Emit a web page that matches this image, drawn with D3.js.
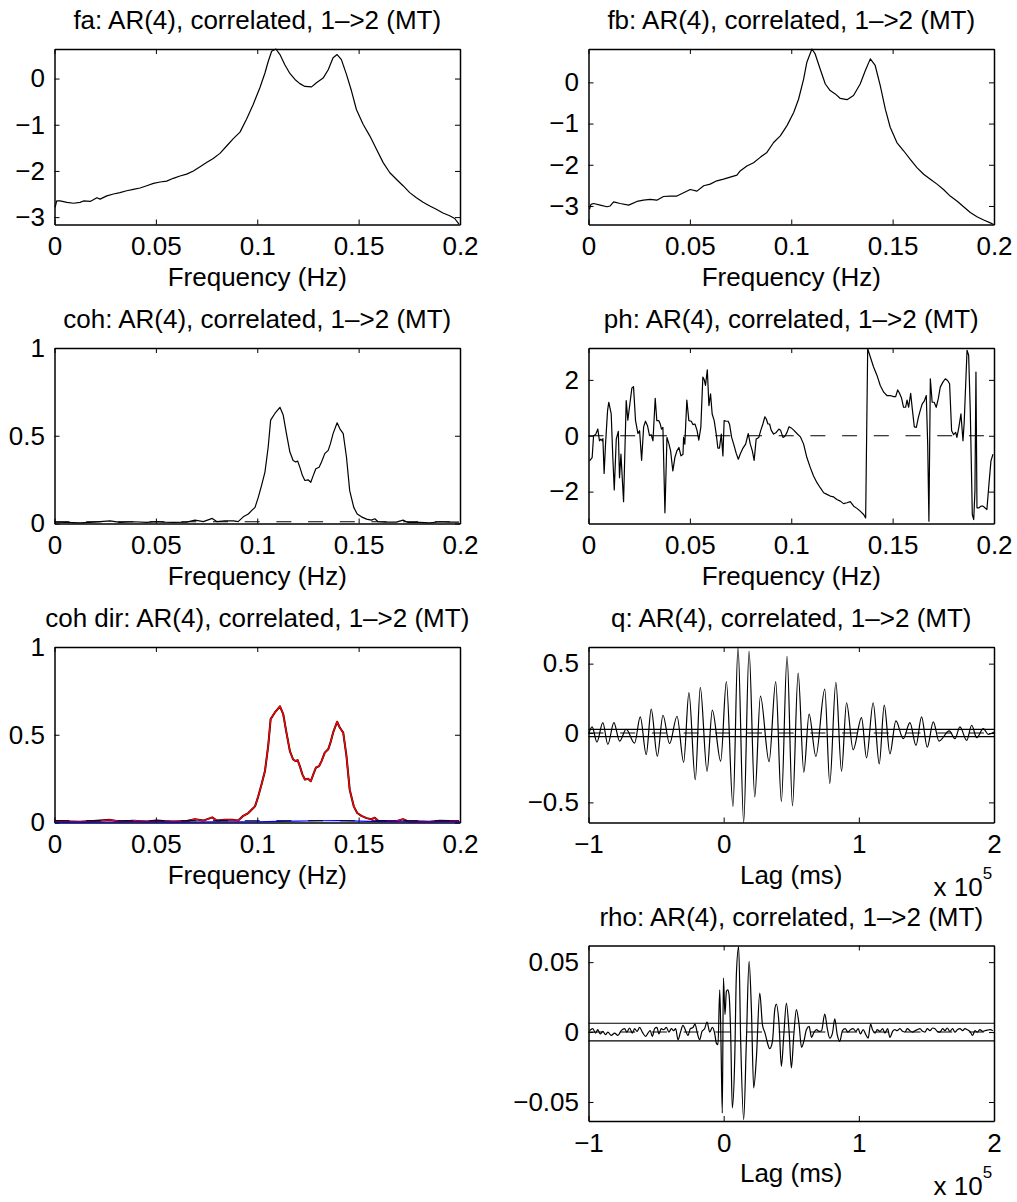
<!DOCTYPE html>
<html>
<head>
<meta charset="utf-8">
<script src="https://cdn.jsdelivr.net/npm/d3@7"></script>
<style>
body { margin: 0; background: #fff; }
</style>
</head>
<body>
<div id="fig"></div>
<script>
// spectra: [frequency (Hz), value]
const faSpec = [[0.0003,-2.79],[0.0011,-2.65],[0.0028,-2.65],[0.0061,-2.68],[0.0094,-2.70],[0.0126,-2.68],[0.0143,-2.65],[0.0176,-2.66],[0.0209,-2.58],[0.0225,-2.61],[0.0258,-2.54],[0.0291,-2.50],[0.0323,-2.47],[0.0356,-2.43],[0.0389,-2.40],[0.0422,-2.37],[0.0455,-2.32],[0.0488,-2.27],[0.0521,-2.24],[0.0553,-2.22],[0.0586,-2.16],[0.0619,-2.11],[0.0652,-2.07],[0.0685,-2.00],[0.0718,-1.91],[0.0750,-1.82],[0.0783,-1.73],[0.0816,-1.62],[0.0849,-1.46],[0.0882,-1.30],[0.0915,-1.16],[0.0947,-0.88],[0.0980,-0.56],[0.1013,-0.20],[0.1038,0.12],[0.1054,0.37],[0.1071,0.59],[0.1092,0.64],[0.1112,0.52],[0.1136,0.30],[0.1161,0.11],[0.1186,-0.02],[0.1210,-0.11],[0.1235,-0.17],[0.1268,-0.18],[0.1292,-0.09],[0.1325,0.01],[0.1350,0.19],[0.1374,0.45],[0.1394,0.52],[0.1415,0.41],[0.1440,0.09],[0.1465,-0.27],[0.1489,-0.67],[0.1522,-0.99],[0.1555,-1.24],[0.1588,-1.53],[0.1621,-1.82],[0.1654,-2.04],[0.1686,-2.18],[0.1719,-2.32],[0.1752,-2.47],[0.1785,-2.58],[0.1818,-2.68],[0.1851,-2.76],[0.1883,-2.83],[0.1916,-2.91],[0.1949,-2.97],[0.1974,-3.03],[0.1995,-3.15]]

const fbSpec = [[0.0005,-3.08],[0.0012,-2.96],[0.0025,-2.94],[0.0058,-2.98],[0.0091,-3.02],[0.0107,-3.00],[0.0124,-2.90],[0.0156,-2.94],[0.0198,-2.98],[0.0239,-2.89],[0.0271,-2.86],[0.0304,-2.84],[0.0337,-2.86],[0.0370,-2.77],[0.0403,-2.76],[0.0436,-2.76],[0.0469,-2.68],[0.0502,-2.60],[0.0535,-2.64],[0.0568,-2.51],[0.0600,-2.47],[0.0633,-2.39],[0.0666,-2.35],[0.0699,-2.30],[0.0732,-2.25],[0.0748,-2.15],[0.0781,-2.03],[0.0814,-1.95],[0.0847,-1.82],[0.0880,-1.70],[0.0913,-1.46],[0.0946,-1.30],[0.0979,-1.05],[0.1012,-0.73],[0.1036,-0.41],[0.1061,0.08],[0.1077,0.49],[0.1102,0.81],[0.1118,0.69],[0.1143,0.32],[0.1168,-0.04],[0.1192,-0.20],[0.1217,-0.28],[0.1242,-0.39],[0.1275,-0.42],[0.1307,-0.32],[0.1340,-0.04],[0.1365,0.28],[0.1390,0.57],[0.1414,0.41],[0.1439,-0.08],[0.1464,-0.65],[0.1488,-1.09],[0.1521,-1.46],[0.1554,-1.66],[0.1587,-1.87],[0.1620,-2.07],[0.1653,-2.23],[0.1686,-2.35],[0.1719,-2.47],[0.1751,-2.60],[0.1784,-2.76],[0.1817,-2.88],[0.1850,-3.02],[0.1883,-3.16],[0.1916,-3.26],[0.1949,-3.34],[0.1982,-3.41],[0.1998,-3.45]]

const cohSpec = [[0.0003,0.008],[0.0061,0.006],[0.0126,0.004],[0.0192,0.008],[0.0274,0.015],[0.0323,0.006],[0.0389,0.010],[0.0455,0.006],[0.0504,0.011],[0.0537,0.008],[0.0586,0.006],[0.0652,0.008],[0.0693,0.019],[0.0734,0.011],[0.0778,0.029],[0.0800,0.011],[0.0841,0.015],[0.0882,0.015],[0.0906,0.011],[0.0931,0.038],[0.0956,0.054],[0.0972,0.073],[0.0989,0.092],[0.1005,0.149],[0.1021,0.216],[0.1038,0.293],[0.1054,0.436],[0.1066,0.589],[0.1087,0.627],[0.1112,0.662],[0.1128,0.618],[0.1144,0.512],[0.1161,0.407],[0.1177,0.359],[0.1190,0.350],[0.1199,0.356],[0.1210,0.321],[0.1223,0.273],[0.1235,0.245],[0.1251,0.249],[0.1264,0.235],[0.1276,0.273],[0.1289,0.312],[0.1305,0.321],[0.1317,0.350],[0.1333,0.398],[0.1350,0.417],[0.1361,0.455],[0.1374,0.512],[0.1394,0.574],[0.1407,0.541],[0.1424,0.512],[0.1440,0.379],[0.1456,0.187],[0.1476,0.092],[0.1493,0.054],[0.1514,0.038],[0.1539,0.025],[0.1563,0.019],[0.1580,0.027],[0.1596,0.010],[0.1637,0.008],[0.1686,0.008],[0.1719,0.019],[0.1744,0.006],[0.1801,0.006],[0.1851,0.004],[0.1900,0.010],[0.1949,0.008],[0.1995,0.008]]

// directed coherence 1->2 (red) sits right on top of the coherence curve
const cohDir12 = cohSpec
// directed coherence 2->1 (blue), near zero
const cohDir21 = [[0,0.002],[0.02,0.002],[0.04,0.003],[0.06,0.002],[0.08,0.003],[0.10,0.004],[0.11,0.006],[0.12,0.008],[0.13,0.010],[0.14,0.011],[0.15,0.008],[0.16,0.005],[0.18,0.003],[0.20,0.004]]
const cohThresh = 0.01

const phSpec = [[0.0005,-0.90],[0.0018,-0.78],[0.0025,0.00],[0.0035,0.04],[0.0046,0.24],[0.0054,-0.18],[0.0061,-0.12],[0.0068,-0.18],[0.0071,-0.10],[0.0077,-1.35],[0.0084,-0.30],[0.0094,0.90],[0.0100,1.20],[0.0112,0.78],[0.0120,-0.78],[0.0127,-1.94],[0.0137,-0.12],[0.0147,0.16],[0.0153,-1.50],[0.0160,-0.66],[0.0173,-2.36],[0.0186,1.26],[0.0194,0.56],[0.0202,1.02],[0.0214,1.71],[0.0222,1.76],[0.0232,0.54],[0.0244,0.08],[0.0252,0.18],[0.0262,-0.88],[0.0272,0.32],[0.0281,0.52],[0.0291,0.36],[0.0301,0.00],[0.0309,0.04],[0.0318,-0.18],[0.0329,1.34],[0.0337,0.54],[0.0347,0.54],[0.0354,0.42],[0.0360,0.24],[0.0367,0.30],[0.0377,-2.76],[0.0387,-0.06],[0.0397,-0.30],[0.0405,-0.54],[0.0416,-1.26],[0.0426,-0.78],[0.0436,-0.54],[0.0446,-0.42],[0.0456,-0.72],[0.0466,-0.66],[0.0469,-0.06],[0.0475,-0.30],[0.0485,1.28],[0.0495,0.54],[0.0507,0.52],[0.0515,0.40],[0.0525,0.42],[0.0535,0.20],[0.0544,-0.16],[0.0554,0.30],[0.0564,2.10],[0.0571,2.00],[0.0577,1.80],[0.0586,2.36],[0.0594,1.08],[0.0602,1.50],[0.0610,0.78],[0.0620,0.54],[0.0630,0.06],[0.0638,-0.44],[0.0646,-0.44],[0.0655,0.06],[0.0663,-0.72],[0.0669,0.54],[0.0679,0.52],[0.0689,0.52],[0.0696,0.40],[0.0706,-0.06],[0.0716,-0.30],[0.0729,-0.64],[0.0739,-0.84],[0.0748,-0.66],[0.0762,-0.44],[0.0775,-0.30],[0.0788,0.08],[0.0798,-0.30],[0.0808,-0.54],[0.0817,-0.88],[0.0827,-0.12],[0.0840,-0.06],[0.0850,0.20],[0.0860,0.42],[0.0870,0.68],[0.0877,0.60],[0.0885,0.42],[0.0893,0.42],[0.0901,0.20],[0.0913,0.06],[0.0926,0.12],[0.0939,0.24],[0.0947,0.20],[0.0959,-0.06],[0.0969,-0.02],[0.0979,0.12],[0.0989,0.32],[0.1000,0.28],
  [0.1012,0.20],[0.1028,0.08],[0.1045,-0.04],[0.1061,-0.30],[0.1077,-0.78],[0.1094,-1.14],[0.1110,-1.44],[0.1127,-1.68],[0.1143,-1.86],[0.1160,-2.04],[0.1176,-2.10],[0.1192,-2.16],[0.1209,-2.19],[0.1225,-2.28],[0.1242,-2.34],[0.1258,-2.43],[0.1275,-2.40],[0.1291,-2.36],[0.1308,-2.52],[0.1324,-2.60],[0.1340,-2.70],[0.1357,-2.82],[0.1367,-2.94],[0.1377,3.12],[0.1390,2.82],[0.1406,2.46],[0.1423,2.16],[0.1439,1.80],[0.1456,1.56],[0.1472,1.44],[0.1488,1.44],[0.1505,1.40],[0.1515,1.40],[0.1525,1.64],[0.1534,1.52],[0.1544,1.35],[0.1554,1.02],[0.1564,1.02],[0.1571,1.28],[0.1579,1.02],[0.1589,1.52],[0.1597,0.96],[0.1607,0.32],[0.1617,0.30],[0.1627,0.66],[0.1636,0.90],[0.1646,1.14],[0.1656,1.24],[0.1666,1.44],[0.1673,-0.30],[0.1679,-3.06],[0.1686,2.04],[0.1695,1.20],[0.1705,1.20],[0.1715,1.02],[0.1725,1.32],[0.1735,1.74],[0.1748,1.92],[0.1760,2.04],[0.1771,1.98],[0.1781,1.86],[0.1791,0.18],[0.1801,0.04],[0.1811,0.12],[0.1817,-0.06],[0.1827,0.32],[0.1837,0.78],[0.1847,-0.18],[0.1853,0.48],[0.1867,3.06],[0.1875,2.88],[0.1883,0.90],[0.1893,-2.82],[0.1900,-3.00],[0.1906,-1.98],[0.1911,2.28],[0.1916,-2.58],[0.1926,-2.58],[0.1936,-2.52],[0.1946,-2.52],[0.1955,-2.58],[0.1965,-2.64],[0.1975,-1.74],[0.1985,-0.90],[0.1995,-0.66]]

// lag in units of 1e5 ms: [lag, value]
const qLagged = [[-0.997,0.000],[-0.973,0.044],[-0.938,-0.065],[-0.894,0.075],[-0.857,-0.082],[-0.812,0.075],[-0.770,-0.058],[-0.721,0.027],[-0.659,-0.073],[-0.617,0.116],[-0.573,-0.155],[-0.536,0.172],[-0.491,-0.167],[-0.449,0.128],[-0.400,-0.077],[-0.345,0.121],[-0.296,-0.211],[-0.257,0.291],[-0.210,-0.337],[-0.173,0.329],[-0.123,-0.276],[-0.084,0.165],[-0.022,-0.203],[0.020,0.370],[0.069,-0.530],[0.106,0.620],[0.148,-0.646],[0.188,0.588],[0.230,-0.460],[0.272,0.266],[0.336,-0.206],[0.385,0.370],[0.427,-0.494],[0.469,0.552],[0.509,-0.525],[0.551,0.431],[0.593,-0.283],[0.632,0.136],[0.682,-0.169],[0.748,0.317],[0.785,-0.363],[0.830,0.366],[0.872,-0.276],[0.909,0.218],[0.958,-0.121],[1.020,0.111],[1.057,-0.179],[1.106,0.218],[1.151,-0.223],[1.188,0.201],[1.230,-0.150],[1.274,0.087],[1.329,-0.041],[1.378,0.075],[1.423,-0.090],[1.464,0.116],[1.506,-0.102],[1.551,0.080],[1.593,-0.058],[1.669,0.015],[1.711,-0.041],[1.748,0.044],[1.798,-0.053],[1.835,0.056],[1.872,-0.034],[1.921,0.031],[1.958,-0.010],[2.000,0.007]]
const qConf = [0.026, -0.026]

const rhoLagged = [[-0.992,0.0010],[-0.968,0.0024],[-0.948,-0.0007],[-0.931,0.0017],[-0.913,-0.0014],[-0.894,0.0005],[-0.874,-0.0019],[-0.857,0.0000],[-0.832,-0.0024],[-0.807,-0.0007],[-0.783,-0.0024],[-0.758,0.0010],[-0.733,0.0024],[-0.716,0.0000],[-0.696,0.0029],[-0.676,-0.0007],[-0.659,0.0024],[-0.641,0.0005],[-0.622,0.0033],[-0.602,0.0000],[-0.577,-0.0031],[-0.560,-0.0007],[-0.543,0.0010],[-0.528,-0.0031],[-0.511,0.0024],[-0.494,0.0033],[-0.479,-0.0014],[-0.462,0.0024],[-0.444,0.0017],[-0.424,0.0033],[-0.405,0.0000],[-0.387,0.0024],[-0.370,0.0010],[-0.355,0.0024],[-0.338,-0.0055],[-0.321,-0.0007],[-0.301,0.0048],[-0.284,0.0017],[-0.264,-0.0024],[-0.247,0.0024],[-0.227,0.0033],[-0.212,0.0057],[-0.195,-0.0007],[-0.178,-0.0055],[-0.160,0.0005],[-0.141,0.0024],[-0.123,0.0071],[-0.103,0.0000],[-0.084,0.0033],[-0.067,-0.0007],[-0.054,-0.0079],[-0.042,-0.0090],[-0.029,0.0302],[-0.020,-0.0067],[-0.010,-0.0579],[-0.002,0.0386],[0.010,0.0124],[0.020,0.0290],[0.030,0.0302],[0.040,0.0267],[0.052,-0.0019],[0.064,-0.0543],[0.082,-0.0186],[0.094,0.0410],[0.111,0.0612],[0.126,-0.0067],[0.148,-0.0626],[0.168,-0.0067],[0.188,0.0505],[0.205,0.0171],[0.222,-0.0400],[0.242,-0.0186],[0.267,0.0279],[0.287,0.0052],[0.306,-0.0007],[0.321,-0.0067],[0.341,-0.0119],[0.361,-0.0067],[0.378,0.0160],[0.390,0.0200],[0.410,0.0052],[0.427,-0.0245],[0.445,-0.0019],[0.464,0.0207],[0.484,0.0005],[0.501,-0.0257],[0.519,-0.0019],[0.538,0.0160],[0.558,0.0052],[0.576,-0.0110],[0.593,-0.0067],[0.612,0.0017],[0.632,0.0040],[0.650,-0.0038],[0.669,0.0000],[0.687,0.0017],[0.706,0.0005],[0.724,0.0010],[0.748,0.0129],[0.766,0.0029],[0.785,-0.0043],[0.805,-0.0007],[0.822,0.0095],[0.840,-0.0019],[0.859,-0.0067],[0.879,0.0010],[0.899,0.0024],[0.919,0.0000],[0.938,0.0017],[0.958,0.0024],[0.978,0.0005],[0.995,0.0024],[1.012,-0.0014],[1.032,0.0017],[1.052,-0.0019],[1.069,-0.0043],[1.087,0.0057],[1.101,0.0017],[1.121,-0.0007],[1.136,0.0017],[1.156,0.0005],[1.176,0.0024],[1.193,-0.0007],[1.213,0.0024],[1.230,-0.0038],[1.250,0.0005],[1.267,0.0017],[1.284,0.0010],[1.304,0.0024],[1.324,0.0005],[1.341,0.0000],[1.358,0.0024],[1.378,0.0010],[1.398,0.0000],[1.415,0.0010],[1.432,0.0017],[1.452,0.0024],[1.472,0.0005],[1.489,0.0000],[1.506,0.0024],[1.526,0.0010],[1.546,0.0029],[1.563,0.0024],[1.580,0.0005],[1.600,0.0000],[1.620,0.0024],[1.637,0.0010],[1.654,0.0029],[1.674,0.0005],[1.694,0.0024],[1.711,0.0000],[1.729,0.0017],[1.748,0.0024],[1.768,0.0010],[1.785,0.0024],[1.803,0.0017],[1.822,0.0005],[1.842,-0.0024],[1.859,0.0010],[1.877,0.0000],[1.896,0.0017],[1.916,0.0005],[1.934,0.0010],[1.951,0.0014],[1.971,0.0017],[1.991,0.0010]]
const rhoConf = [0.0063, -0.0063]

// axis limits and ticks
const freqLim = [0, 0.2]
const freqTicks = [0, 0.05, 0.1, 0.15, 0.2]
const lagLim = [-1, 2]
const lagTicks = [-1, 0, 1, 2]
const faLim = [-3.16, 0.64], faTicks = [-3, -2, -1, 0]
const fbLim = [-3.45, 0.81], fbTicks = [-3, -2, -1, 0]
const cohLim = [0, 1], cohTicks = [0, 0.5, 1]
const phLim = [-Math.PI, Math.PI], phTicks = [-2, 0, 2]
const qLim = [-0.645, 0.62], qTicks = [-0.5, 0, 0.5]
const rhoLim = [-0.0636, 0.0619], rhoTicks = [-0.05, 0, 0.05]

const W = 1017, H = 1202
const font = '"Liberation Sans", Arial, Helvetica, sans-serif'
const fontSize = 26
const colX = [54.5, 588.5], axW = 405.5
const rowY = [49, 348, 647, 945.5], axH = 175.5
const dash = "15,16.7"

const svg = d3.select("#fig").append("svg")
  .attr("width", W).attr("height", H)
  .style("background", "#fff")

// MATLAB style: minus sign, no trailing zeros
function fmt(d) {
  if (d === 0) return "0"
  return (d < 0 ? "\u2212" : "") + String(Math.abs(d))
}

function makeAxes(col, row, xLim, yLim, xTicks, yTicks, title, xLabel) {
  const g = svg.append("g").attr("transform", "translate(" + colX[col] + "," + rowY[row] + ")")
  const x = d3.scaleLinear().domain(xLim).range([0, axW])
  const y = d3.scaleLinear().domain(yLim).range([axH, 0])

  // ticks pointing inward on all four sides
  const axes = [
    g.append("g").attr("transform", "translate(0," + axH + ")")
      .call(d3.axisBottom(x).tickValues(xTicks).tickFormat(fmt).tickSizeInner(-5).tickSizeOuter(0).tickPadding(12.5)),
    g.append("g")
      .call(d3.axisTop(x).tickValues(xTicks).tickFormat("").tickSizeInner(-5).tickSizeOuter(0)),
    g.append("g")
      .call(d3.axisLeft(y).tickValues(yTicks).tickFormat(fmt).tickSizeInner(-5).tickSizeOuter(0).tickPadding(9.5)),
    g.append("g").attr("transform", "translate(" + axW + ",0)")
      .call(d3.axisRight(y).tickValues(yTicks).tickFormat("").tickSizeInner(-5).tickSizeOuter(0))
  ]
  axes.forEach(a => {
    a.attr("font-size", fontSize).attr("font-family", font)
    a.select(".domain").attr("stroke", "#000").attr("stroke-width", 1.5)
    a.selectAll(".tick line").attr("stroke", "#000").attr("stroke-width", 1)
    a.selectAll(".tick text").attr("fill", "#000")
  })

  g.append("text")
    .attr("x", axW / 2).attr("y", -20)
    .attr("text-anchor", "middle")
    .style("font", fontSize + "px " + font)
    .text(title)

  g.append("text")
    .attr("x", axW / 2).attr("y", axH + 61)
    .attr("text-anchor", "middle")
    .style("font", fontSize + "px " + font)
    .text(xLabel)

  return {g: g, x: x, y: y}
}

function addLine(ax, data, color, curve, width) {
  ax.g.append("path")
    .datum(data)
    .attr("fill", "none")
    .attr("stroke", color)
    .attr("stroke-width", width || 1.2)
    .attr("stroke-linejoin", "round")
    .attr("d", d3.line()
      .curve(curve || d3.curveLinear)
      .x(d => ax.x(d[0]))
      .y(d => ax.y(d[1])))
}

function addHLine(ax, level, dashed) {
  const xd = ax.x.domain()
  ax.g.append("path")
    .datum([[xd[0], level], [xd[1], level]])
    .attr("fill", "none")
    .attr("stroke", "#000")
    .attr("stroke-width", 1.1)
    .attr("stroke-dasharray", dashed ? dash : null)
    .attr("d", d3.line().x(d => ax.x(d[0])).y(d => ax.y(d[1])))
}

function addExponent(ax) {
  const t = ax.g.append("text")
    .attr("x", axW - 60.5).attr("y", axH + 73.5)
    .style("font", fontSize + "px " + font)
    .text("x 10")
  t.append("tspan").attr("dy", -17).style("font-size", "17px").text("5")
}

const sub = " AR(4), correlated, 1\u2013>2 (MT)"

// fa
const fa = makeAxes(0, 0, freqLim, faLim, freqTicks, faTicks, "fa:" + sub, "Frequency (Hz)")
addLine(fa, faSpec, "#000")

// fb
const fb = makeAxes(1, 0, freqLim, fbLim, freqTicks, fbTicks, "fb:" + sub, "Frequency (Hz)")
addLine(fb, fbSpec, "#000")

// coh
const coh = makeAxes(0, 1, freqLim, cohLim, freqTicks, cohTicks, "coh:" + sub, "Frequency (Hz)")
addLine(coh, cohSpec, "#000")
addHLine(coh, cohThresh, true)

// ph
const ph = makeAxes(1, 1, freqLim, phLim, freqTicks, phTicks, "ph:" + sub, "Frequency (Hz)")
addLine(ph, phSpec, "#000")
addHLine(ph, 0, true)

// coh dir
const cd = makeAxes(0, 2, freqLim, cohLim, freqTicks, cohTicks, "coh dir:" + sub, "Frequency (Hz)")
addLine(cd, cohSpec, "#000", null, 2)
addLine(cd, cohDir12, "#ff0000", null, 1.4)
addLine(cd, cohDir21, "#0000ff")
addHLine(cd, cohThresh, true)

// q
const q = makeAxes(1, 2, lagLim, qLim, lagTicks, qTicks, "q:" + sub, "Lag (ms)")
addLine(q, qLagged, "#000", d3.curveMonotoneX)
qConf.forEach(c => addHLine(q, c, false))
addHLine(q, 0, true)
addExponent(q)

// rho
const rho = makeAxes(1, 3, lagLim, rhoLim, lagTicks, rhoTicks, "rho:" + sub, "Lag (ms)")
addLine(rho, rhoLagged, "#000", d3.curveMonotoneX)
rhoConf.forEach(c => addHLine(rho, c, false))
addHLine(rho, 0, true)
addExponent(rho)
</script>
</body>
</html>
